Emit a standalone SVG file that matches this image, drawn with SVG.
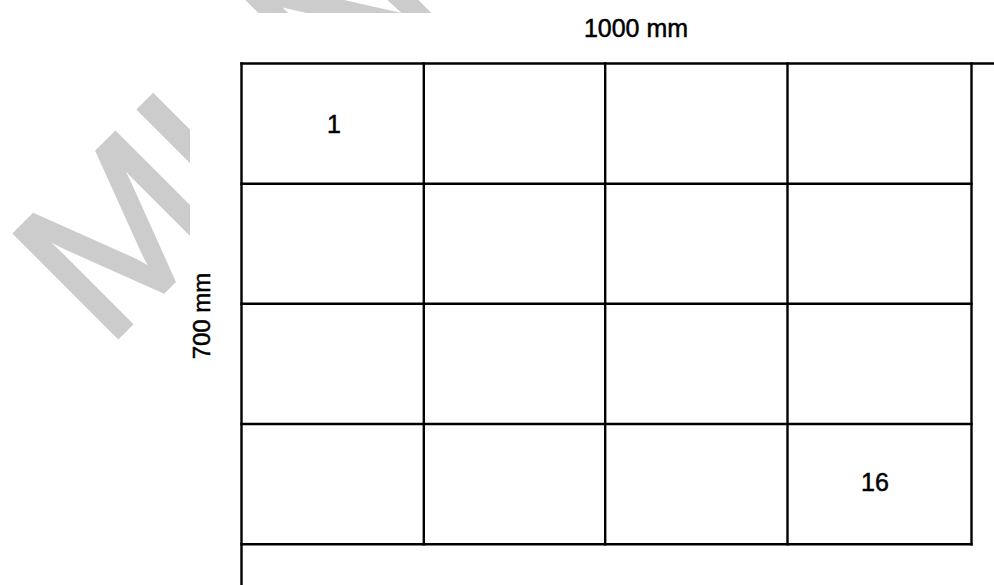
<svg xmlns="http://www.w3.org/2000/svg" width="994" height="585" viewBox="0 0 994 585">
  <style>
    .ln { stroke: #000; stroke-width: 2.4; fill: none; stroke-linecap: square; }
    .lbl { font-family: "Liberation Sans", Arial, sans-serif; fill: #000; stroke: #000; stroke-width: 0.5; }
    .wm { font-family: "Liberation Sans", Arial, sans-serif; fill: #cccccc; stroke: #cccccc; stroke-width: 4; stroke-linejoin: miter; }
  </style>
  <defs>
    <clipPath id="wmclip">
      <path d="M0,0 H994 V13 H190 V585 H0 Z"/>
    </clipPath>
  </defs>
  <rect x="0" y="0" width="994" height="585" fill="#fff"/>

  <g id="watermark" clip-path="url(#wmclip)">
    <text class="wm" font-size="212" transform="translate(106,349) rotate(-45)">MUN</text>
  </g>

  <g id="grid">
    <line class="ln" x1="241.5" y1="63.5" x2="994" y2="63.5"/>
    <line class="ln" x1="241.5" y1="183.7" x2="971.5" y2="183.7"/>
    <line class="ln" x1="241.5" y1="303.8" x2="971.5" y2="303.8"/>
    <line class="ln" x1="241.5" y1="424" x2="971.5" y2="424"/>
    <line class="ln" x1="241.5" y1="544.2" x2="971.5" y2="544.2"/>
    <line class="ln" x1="241.5" y1="63.5" x2="241.5" y2="586"/>
    <line class="ln" x1="423.8" y1="63.5" x2="423.8" y2="544.2"/>
    <line class="ln" x1="605.2" y1="63.5" x2="605.2" y2="544.2"/>
    <line class="ln" x1="787.5" y1="63.5" x2="787.5" y2="544.2"/>
    <line class="ln" x1="971.5" y1="63.5" x2="971.5" y2="544.2"/>
  </g>

  <g id="label-width">
    <text class="lbl" font-size="25" x="636" y="37" text-anchor="middle">1000 mm</text>
  </g>
  <g id="label-height">
    <text class="lbl" font-size="24" text-anchor="middle" transform="translate(209.5,316) rotate(-90)">700 mm</text>
  </g>
  <g id="cell-1">
    <text class="lbl" font-size="25" x="334" y="132.5" text-anchor="middle">1</text>
  </g>
  <g id="cell-16">
    <text class="lbl" font-size="25" x="875" y="491" text-anchor="middle">16</text>
  </g>
</svg>
